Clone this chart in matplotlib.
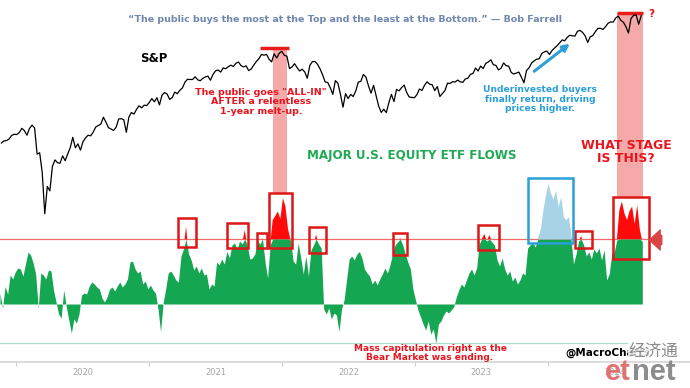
import numpy as np
import pandas as pd
import matplotlib
matplotlib.use("Agg")
import matplotlib.pyplot as plt
import matplotlib.dates as mdates
from matplotlib.patches import Rectangle

# Flujos semanales de ETFs de renta variable (unidades relativas, umbral = 130)
flows = [
    22, -8, 35, 20, 58, 50, 64, 72, 70, 56,
    80, 104, 98, 82, 60, -8, 62, 58, 50, 68,
    66, 28, 4, -20, -28, 28, -5, -32, -58, -30,
    -38, -20, 18, 22, 20, 36, 44, 40, 34, 30,
    12, 4, 14, 30, 34, 26, 36, 44, 34, 40,
    50, 84, 86, 70, 62, 66, 40, 46, 30, 38,
    28, 22, -10, -55, 2, 30, 62, 66, 58, 48,
    44, 96, 110, 155, 100, 88, 68, 76, 62, 72,
    58, 60, 30, 40, 36, 84, 78, 90, 80, 105,
    92, 118, 122, 110, 126, 120, 148, 118, 90, 92,
    100, 126, 120, 132, 84, 52, 118, 168, 176, 185,
    170, 212, 195, 150, 128, 86, 80, 122, 92, 60,
    96, 56, 108, 118, 139, 120, 112, -10, -20, -8,
    -30, -18, -22, -55, -10, 8, 50, 90, 96, 88,
    100, 105, 92, 70, 62, 56, 40, 48, 38, 50,
    60, 72, 62, 78, 100, 118, 124, 132, 118, 100,
    84, 70, 30, 8, -12, -26, -40, -52, -34, -60,
    -50, -78, -40, -34, -22, -14, -18, -12, -6, 14,
    28, 40, 34, 48, 62, 70, 58, 72, 120, 130,
    140, 126, 138, 124, 118, 88, 76, 92, 70, 58,
    66, 46, 54, 40, 48, 62, 58, 112, 118, 122,
    114, 134, 150, 188, 218, 241, 221, 210, 228, 195,
    215, 175, 168, 175, 138, 80, 100, 126, 136, 118,
    96, 104, 90, 110, 102, 112, 88, 108, 48, 60,
    100, 104, 128, 188, 205, 181, 168, 186, 195, 160,
    198, 150, 125,
]
flows_start = "2019-11-18"
threshold = 130

# S&P 500 cierres semanales (viernes)
spx = [
    3110, 3141, 3146, 3169, 3221, 3240,
    3235, 3265, 3330, 3295, 3225, 3328, 3380, 3338, 2954, 2972, 2711, 2237, 2541,
    2489, 2790, 2875, 2837, 2831, 2930, 2864, 2955, 3044, 3194, 3041, 3098, 3009,
    3130, 3185, 3225, 3216, 3271, 3351, 3373, 3397, 3508, 3427, 3341, 3319, 3298,
    3348, 3477, 3484, 3465, 3270, 3509, 3585, 3558, 3638, 3699, 3663, 3709, 3703, 3756,
    3825, 3768, 3841, 3714, 3887, 3934, 3907, 3811, 3842, 3943, 3913, 3975, 4020,
    4129, 4185, 4180, 4181, 4233, 4174, 4156, 4204, 4230, 4247, 4166, 4281, 4352,
    4370, 4327, 4412, 4395, 4437, 4468, 4442, 4509, 4535, 4459, 4433, 4455, 4357,
    4391, 4471, 4545, 4605, 4697, 4682, 4698, 4595, 4538, 4712, 4620, 4726, 4766,
    4677, 4662, 4398, 4432, 4500, 4418, 4349, 4385, 4329, 4204, 4463, 4543, 4546,
    4488, 4393, 4272, 4132, 4123, 4024, 3901, 4158, 4109, 3901, 3675, 3912, 3825,
    3899, 3863, 3962, 4130, 4145, 4280, 4228, 4058, 3924, 4067, 3873, 3693, 3586,
    3640, 3583, 3753, 3901, 3771, 3993, 3965, 4026, 4072, 3934, 3852, 3845, 3840,
    3895, 3999, 3973, 4071, 4136, 4090, 4079, 3970, 4046, 3862, 3917, 3971, 4109,
    4105, 4138, 4133, 4169, 4136, 4124, 4192, 4205, 4282, 4299, 4410, 4348, 4450,
    4399, 4505, 4536, 4582, 4478, 4464, 4370, 4406, 4516, 4457, 4450, 4320, 4288,
    4308, 4327, 4224, 4117, 4358, 4415, 4514, 4559, 4595, 4604, 4719, 4755, 4770,
    4697, 4784, 4840, 4891, 4959, 5027, 5006, 5089, 5137, 5124, 5117, 5234, 5254,
    5204, 5123, 4967, 5100, 5128, 5223, 5303, 5305, 5278, 5347, 5432, 5465, 5460,
    5567, 5615, 5505, 5459, 5346, 5190, 5554, 5634, 5648, 5408, 5626,
]
spx_start = "2019-11-22"

years = [2020, 2021, 2022, 2023, 2024]

# Recuadros rojos sobre los picos de flujos: (inicio, fin, valor bajo, valor alto)
red_boxes = [
    ("2021-03-21", "2021-05-10", 114, 172),
    ("2021-08-02", "2021-09-29", 112, 162),
    ("2021-10-24", "2021-11-20", 112, 142),
    ("2021-11-26", "2022-01-28", 112, 222),
    ("2022-03-16", "2022-05-01", 102, 154),
    ("2022-11-01", "2022-12-10", 98, 142),
    ("2023-06-23", "2023-08-19", 108, 158),
    ("2024-03-15", "2024-05-01", 112, 146),
    ("2024-06-28", "2024-10-04", 90, 214),
]
blue_box = ("2023-11-07", "2024-03-10", 122, 252)

W, H = 690, 388


def fx(x, y):
    # posición en píxeles -> fracción de figura
    return x / W, 1 - y / H


def dn(s):
    return mdates.date2num(pd.Timestamp(s))


fig = plt.figure(figsize=(6.9, 3.88), dpi=100)
ax = fig.add_axes([0, 26 / H, 1, 362 / H])
ax2 = ax.twinx()

d_flows = pd.date_range(flows_start, periods=len(flows), freq="7D")
d_spx = pd.date_range(spx_start, periods=len(spx), freq="W-FRI")
xf = mdates.date2num(d_flows)
xs = mdates.date2num(d_spx)
fv = np.array(flows, dtype=float)

x0 = dn("2020-01-01")
ppd = 133 / 365.25
ax.set_xlim(x0 - 16 / ppd, x0 + 674 / ppd)
ax.set_ylim(-116, 608)
ax2.set_yscale("log")
ax2.set_ylim(1122, 6053)

green = "#14a651"
red = "#ff0a0a"
lblue = "#a6d3e6"

# Bandas rosadas
for d1, d2, y1, y2 in [("2021-12-07", "2022-01-14", 0.467, 0.862),
                       ("2024-07-09", "2024-09-18", 0.456, 0.961)]:
    ax.axvspan(dn(d1), dn(d2), ymin=y1, ymax=y2, color="#f6a9a9", lw=0, zorder=0)

# Flujos
ax.fill_between(xf, 0, np.minimum(fv, threshold), color=green, lw=0, zorder=2)
b1, b2 = dn(blue_box[0]), dn(blue_box[1])
in_blue = (xf >= b1 - 7) & (xf <= b2 + 7)
ax.fill_between(xf, threshold, fv, where=(fv > threshold) & ~in_blue,
                interpolate=True, color=red, lw=0, zorder=2)
ax.fill_between(xf, threshold, fv, where=(fv > threshold) & in_blue,
                interpolate=True, color=lblue, lw=0, zorder=2)

ax.axhline(threshold, xmin=0, xmax=647 / W, color="#f26a6a", lw=0.9, zorder=1)
ax.axhline(-78, xmin=0, xmax=640 / W, color="#b0ddcb", lw=0.9, zorder=1)

for d1, d2, lo, hi in red_boxes:
    a, b = dn(d1), dn(d2)
    ax.add_patch(Rectangle((a, lo), b - a, hi - lo, fill=False, ec="#dc1717", lw=1.8, zorder=5))
ax.add_patch(Rectangle((b1, blue_box[2]), b2 - b1, blue_box[3] - blue_box[2],
                       fill=False, ec="#2a9fd8", lw=1.8, zorder=5))

# Flecha roja del nivel actual
ax.annotate("", xy=(dn("2024-09-28"), threshold - 2), xytext=(dn("2024-11-16"), threshold - 2),
            arrowprops=dict(arrowstyle="simple,head_length=0.7,head_width=1.3,tail_width=0.6",
                            color="#d94545", mutation_scale=11), zorder=6)

# S&P
ax2.plot(xs, spx, color="black", lw=0.9, zorder=3)
ax2.hlines(4830, dn("2021-11-01"), dn("2022-01-20"), color="#e81c1c", lw=2.5)
ax2.hlines(5690, dn("2024-07-08"), dn("2024-09-18"), color="#e81c1c", lw=2.5)
ax2.annotate("", xy=(dn("2024-03-07"), 4978), xytext=(dn("2023-11-18"), 4309),
             arrowprops=dict(arrowstyle="-|>", color="#2f9fd6", lw=2.2, mutation_scale=10))

# Ejes
for a in (ax, ax2):
    for s in ("top", "left", "right"):
        a.spines[s].set_visible(False)
    a.set_yticks([])
    a.minorticks_off()
ax2.spines["bottom"].set_visible(False)
ax.spines["bottom"].set_color("#d6d6d6")
ax.spines["bottom"].set_linewidth(1.2)
ax.set_xticks([dn(f"{y}-01-01") for y in years])
ax.set_xticklabels([])
ax.set_xticks([dn(f"{y}-07-02") for y in years], minor=True)
ax.set_xticklabels([str(y) for y in years], minor=True)
ax.tick_params(axis="x", which="major", length=3, color="#cccccc")
ax.tick_params(axis="x", which="minor", length=0, pad=4, labelsize=6, labelcolor="#a5a5a5")

# Textos
bold = dict(fontweight="bold", ha="center", va="center")
fig.text(*fx(345, 19), "\u201cThe public buys the most at the Top and the least at the Bottom.\u201d \u2014 Bob Farrell",
         color="#6f87ae", fontsize=6.8, **bold)
fig.text(*fx(154, 59), "S&P", color="black", fontsize=8.5, **bold)
fig.text(*fx(261, 102), "The public goes \"ALL-IN\"\nAFTER a relentless\n1-year melt-up.",
         color="#e8141e", fontsize=6.8, linespacing=1.1, **bold)
fig.text(*fx(412, 155), "MAJOR U.S. EQUITY ETF FLOWS", color="#1fa955", fontsize=8.6, **bold)
fig.text(*fx(540, 99), "Underinvested buyers\nfinally return, driving\nprices higher.",
         color="#2a9fd8", fontsize=6.6, linespacing=1.05, **bold)
fig.text(*fx(626, 152), "WHAT STAGE\nIS THIS?", color="#e8141e", fontsize=9, linespacing=1.0, **bold)
fig.text(*fx(651, 14), "?", color="#e8141e", fontsize=7.5, **bold)
fig.text(*fx(430, 353), "Mass capitulation right as the\nBear Market was ending.",
         color="#e8141e", fontsize=6.5, linespacing=1.05, **bold)
fig.text(*fx(565, 353), "@MacroCharts", color="black", fontsize=7.5, fontweight="bold",
         ha="left", va="center")
fig.text(*fx(653, 351), "经济通", color="#8a8a8a", fontsize=12,
         family=["Noto Sans CJK SC", "DejaVu Sans"], ha="center", va="center",
         bbox=dict(facecolor="white", edgecolor="none", pad=0.3, alpha=0.85))
fig.text(*fx(605, 372), "et", color="#e07272", fontsize=21, fontweight="bold",
         family="Liberation Sans", ha="left", va="center")
fig.text(*fx(632, 372), "net", color="#8c8c8c", fontsize=21, fontweight="bold",
         family="Liberation Sans", ha="left", va="center")

fig.savefig("out.png", dpi=100)
